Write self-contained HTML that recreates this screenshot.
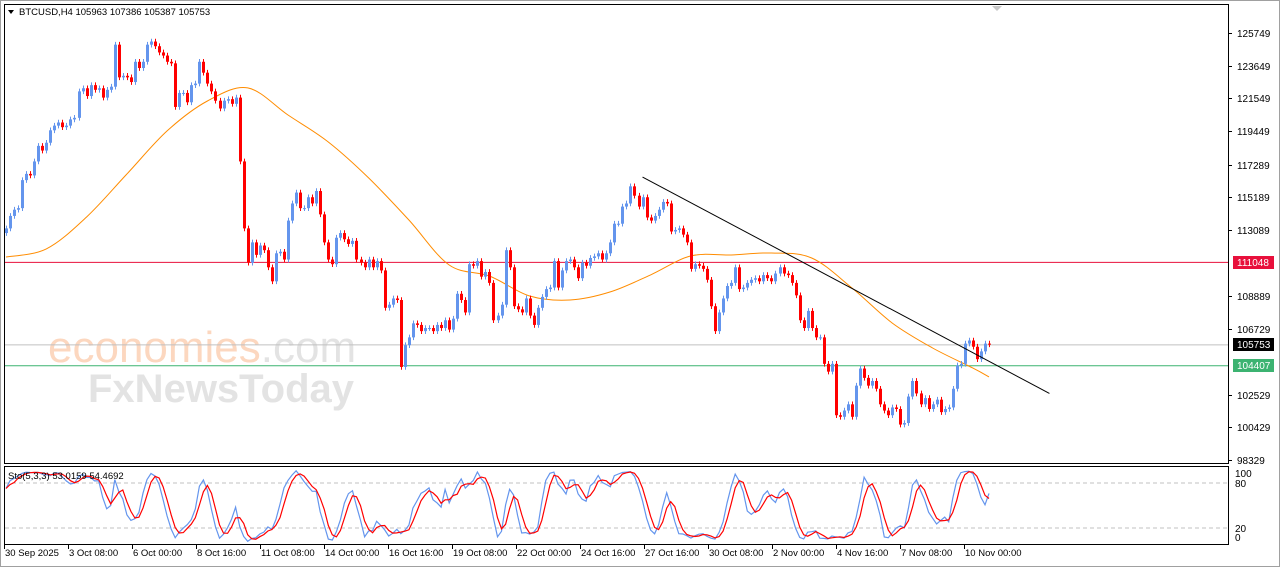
<!DOCTYPE html>
<html><head><meta charset="utf-8"><style>
body{margin:0;width:1280px;height:567px;background:#fff;overflow:hidden;font-family:"Liberation Sans",sans-serif}
svg text{font-family:"Liberation Sans",sans-serif;font-size:10px}
</style></head><body>
<svg id="c" width="1280" height="567">
<rect x="0.5" y="0.5" width="1279" height="566" fill="#fff" stroke="#a0a0a0"/>
<rect x="4.5" y="4.5" width="1224" height="459" fill="#fff" stroke="#000"/>
<rect x="4.5" y="466.5" width="1224" height="78" fill="#fff" stroke="#000"/>
<polygon points="992,6 1002,6 997,11" fill="#c8c8c8"/>
<g>
<text x="48" y="362" style="font-size:44px;fill:#fcd7bf">economies<tspan fill="#e3e3e3">.com</tspan></text>
<text x="88" y="402" style="font-size:40px;fill:#e3e3e3;font-weight:bold">FxNewsToday</text>
</g>
<g id="main"></g>
<g id="axis"></g>
<g id="stoch"></g>
<polygon points="8,10 14,10 11,14" fill="#000"/>
<text x="19" y="15" style="font-size:9.5px">BTCUSD,H4  105963 107386 105387 105753</text>
<text x="8" y="479" style="font-size:9.5px">Sto(5,3,3) 53.0159 54.4692</text>
</svg>
<script>
const closes=[113.2,114.0,114.4,114.5,116.3,116.7,116.6,117.5,118.5,118.2,118.7,119.5,119.8,120.0,119.7,119.8,120.2,120.3,122.0,122.2,121.7,122.4,122.1,122.2,121.6,122.1,122.3,125.0,122.9,123.0,122.9,122.6,123.9,123.5,123.9,125.0,125.2,124.9,124.5,124.3,123.9,123.8,121.0,121.9,121.9,121.3,122.4,122.5,123.9,123.2,122.5,122.0,121.4,120.9,121.4,121.5,121.2,121.6,117.5,
113.2,111.0,112.3,111.5,112.1,111.8,110.7,109.8,111.6,111.7,111.2,113.7,114.8,115.5,114.5,114.5,115.2,114.8,115.6,114.1,112.3,111.2,110.9,112.6,112.9,112.5,112.2,112.4,111.2,111.0,110.7,111.2,110.7,111.1,110.5,108.1,108.3,108.7,108.6,104.3,105.7,106.2,107.1,107.0,106.6,106.8,106.8,106.6,107.0,106.8,107.3,106.7,107.4,109.0,108.6,107.8,110.9,110.8,111.1,110.1,110.4,109.7,
107.3,107.6,108.3,111.8,110.7,108.2,108.0,107.8,108.7,107.6,107.0,108.1,108.8,109.3,109.4,111.1,109.4,110.5,111.1,111.2,110.7,110.0,111.0,110.8,111.3,111.4,111.6,111.2,111.6,112.3,113.5,113.5,114.6,114.8,115.9,115.3,114.6,115.2,113.9,113.7,114.0,114.4,114.9,114.8,113.0,113.1,113.2,112.8,112.3,110.6,110.9,110.8,110.6,109.9,108.2,106.6,107.8,108.7,109.5,109.7,110.7,
109.3,109.4,109.7,109.9,110.0,109.8,110.2,110.0,109.8,110.3,110.7,110.3,110.2,109.7,108.9,107.3,106.8,107.9,106.8,106.2,106.2,104.5,104.0,104.5,101.2,101.1,101.5,101.9,101.1,103.1,104.2,103.6,103.1,103.4,102.9,101.9,101.5,101.2,101.7,101.6,100.6,100.7,102.4,103.4,102.6,101.9,102.3,101.6,101.9,102.2,101.4,101.6,101.7,102.9,104.4,104.5,105.8,106.0,105.6,104.8,105.3,105.8,105.753];
const firstOpen=112.9;
const maValues=[111.36,111.88,113.93,116.69,119.46,121.38,122.22,120.48,118.75,116.44,113.74,110.85,110.14,108.86,108.60,109.12,110.21,111.43,111.49,111.62,111.30,109.37,107.12,105.52,104.23,103.66];
const priceTicks=[125749,123649,121549,119449,117289,115189,113089,108889,106729,102529,100429,98329];
const levelValues=[111048,105753,104407];
const trendStart=[158,116.5];const trendEnd=[259,102.6];
const dateLabels=["30 Sep 2025","3 Oct 08:00","6 Oct 00:00","8 Oct 16:00","11 Oct 08:00","14 Oct 00:00","16 Oct 16:00","19 Oct 08:00","22 Oct 00:00","24 Oct 16:00","27 Oct 16:00","30 Oct 08:00","2 Nov 00:00","4 Nov 16:00","7 Nov 08:00","10 Nov 00:00"];
const stochLevels=[100,80,20,0];

const NS="http://www.w3.org/2000/svg";
const N=closes.length;
const step=983/(N-1);
const X=i=>6+i*step;
const Y=p=>33+(125749-p)*0.01557;
const SY=v=>543-v*0.75;
function mk(t,a,parent){const e=document.createElementNS(NS,t);for(const k in a)e.setAttribute(k,a[k]);parent.appendChild(e);return e;}
const main=document.getElementById('main'),axis=document.getElementById('axis'),st=document.getElementById('stoch');
const lvlColors=["#e8103c","#c0c0c0","#3cb371"];
levelValues.forEach((v,i)=>{const l=mk('line',{x1:5,x2:1228,y1:Y(v)+.5,y2:Y(v)+.5,stroke:lvlColors[i],'stroke-width':1},main);

});
// MA (smooth spline through sampled values)
const pts=maValues.map((v,k)=>[X(Math.min(k*10,N-1)),Y(v*1000)]);
let d='M'+pts[0][0].toFixed(1)+','+pts[0][1].toFixed(1);
for(let k=0;k<pts.length-1;k++){const p0=pts[Math.max(0,k-1)],p1=pts[k],p2=pts[k+1],p3=pts[Math.min(pts.length-1,k+2)];
const c1=[p1[0]+(p2[0]-p0[0])/6,p1[1]+(p2[1]-p0[1])/6],c2=[p2[0]-(p3[0]-p1[0])/6,p2[1]-(p3[1]-p1[1])/6];
d+='C'+c1.map(n=>n.toFixed(1)).join(',')+' '+c2.map(n=>n.toFixed(1)).join(',')+' '+p2.map(n=>n.toFixed(1)).join(',');}
const ma=mk('path',{d:d,fill:'none',stroke:'#ff8c00','stroke-width':1},main);


// candles
const O=[],H=[],L=[],C=[];
for(let i=0;i<N;i++){const o=(i?closes[i-1]:firstOpen)*1000,c=closes[i]*1000;O.push(o);C.push(c);H.push(Math.max(o,c)+180);L.push(Math.min(o,c)-180);
const col=c>=o?'#6495ed':'#ff0000';const x=Math.round(X(i));
const g=mk('g',{},main);


mk('line',{x1:x+.5,x2:x+.5,y1:Y(H[i]),y2:Y(L[i]),stroke:col},g);
const t=Math.min(Y(o),Y(c)),b=Math.max(Y(o),Y(c));
mk('rect',{x:x-1,y:t,width:3,height:Math.max(1,b-t),fill:col},g);}
// trend line
const tl=mk('line',{x1:X(trendStart[0]),y1:Y(trendStart[1]*1000),x2:X(trendEnd[0]),y2:Y(trendEnd[1]*1000),stroke:'#000','stroke-width':1},main);


// price axis
priceTicks.forEach(v=>{const y=Math.round(Y(v));mk('line',{x1:1228,x2:1232,y1:y+.5,y2:y+.5,stroke:'#000'},axis);
const t=mk('text',{x:1237,y:y+4},axis);t.textContent=v;

});
const bg=["#e8103c","#000","#3cb371"];
levelValues.forEach((v,i)=>{const y=Math.round(Y(v));const g=mk('g',{},axis);


mk('rect',{x:1233,y:y-6,width:41,height:13,fill:bg[i]},g);
const t=mk('text',{x:1237,y:y+4,fill:'#fff'},g);t.textContent=v;});
// date axis
dateLabels.forEach((s,k)=>{const x=4+k*64;mk('line',{x1:x+.5,x2:x+.5,y1:545,y2:549,stroke:'#000'},axis);
const t=mk('text',{x:x+1,y:556,style:'font-size:9.5px'},axis);t.textContent=s;

});
// stochastic
[80,20].forEach(v=>mk('line',{x1:5,x2:1228,y1:SY(v),y2:SY(v),stroke:'#c0c0c0','stroke-dasharray':'4,3'},st));
stochLevels.forEach(v=>{const t=mk('text',{x:1235,y:v==100?477:v==80?487:v==20?532:541},st);t.textContent=v;

});
const K=[],D=[];
for(let i=0;i<N;i++){let hs=0,ls=0;for(let j=Math.max(0,i-2);j<=i;j++){const a=Math.max(0,j-4);let hh=-1e9,ll=1e9;for(let m=a;m<=j;m++){hh=Math.max(hh,H[m]);ll=Math.min(ll,L[m]);}hs+=hh-ll;ls+=C[j]-ll;}
K.push(hs?100*ls/hs:50);}
for(let i=0;i<N;i++){let s=0,n=0;for(let j=Math.max(0,i-2);j<=i;j++){s+=K[j];n++;}D.push(s/n);}
function pl(arr,col,name){let p='';arr.forEach((v,i)=>p+=(i?'L':'M')+X(i).toFixed(1)+','+SY(v).toFixed(1));
const e=mk('path',{d:p,fill:'none',stroke:col,'stroke-width':1.2},st);

}
pl(K,'#6495ed','stochastic-main-line');pl(D,'#ff0000','stochastic-signal-line');
</script>
</body></html>
